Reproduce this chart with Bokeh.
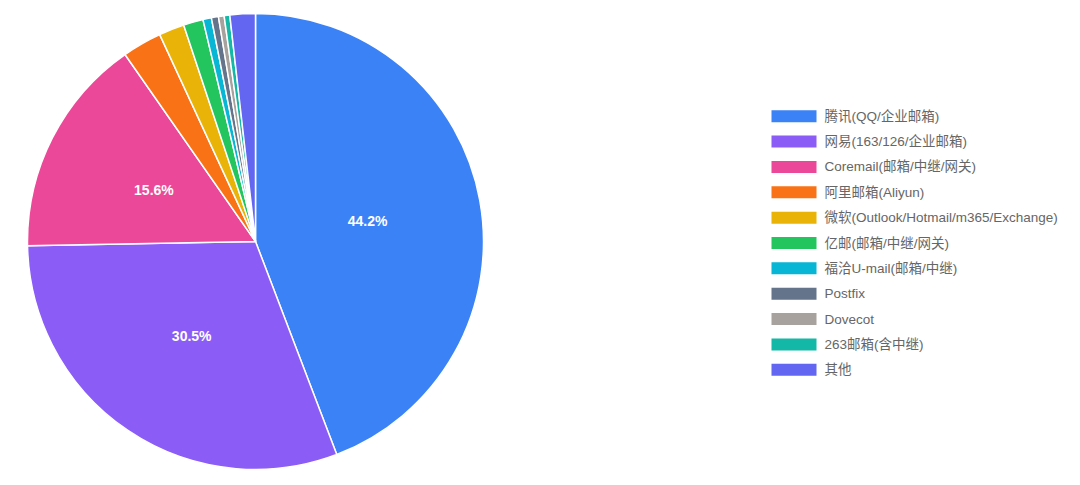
import math
from bokeh.plotting import figure
from bokeh.models import Range1d, ColumnDataSource
from bokeh.core.properties import value
from bokeh.embed import file_html
from bokeh.resources import INLINE

categories = ["腾讯(QQ/企业邮箱)", "网易(163/126/企业邮箱)", "Coremail(邮箱/中继/网关)",
              "阿里邮箱(Aliyun)", "微软(Outlook/Hotmail/m365/Exchange)", "亿邮(邮箱/中继/网关)",
              "福洽U-mail(邮箱/中继)", "Postfix", "Dovecot", "263邮箱(含中继)", "其他"]
shares = [44.2, 30.5, 15.6, 2.8, 1.8, 1.4, 0.6, 0.5, 0.4, 0.4, 1.8]
colors = ["#3b82f6", "#8b5cf6", "#ec4899", "#f97316", "#eab308", "#22c55e",
          "#06b6d4", "#64748b", "#a8a29e", "#14b8a6", "#6366f1"]

W, H = 1064, 469
FONT = "'Liberation Sans', Arial, 'Noto Sans CJK SC', sans-serif"

p = figure(width=W, height=H, output_backend="svg", toolbar_location=None,
           x_range=Range1d(0, W), y_range=Range1d(0, H),
           min_border=0, outline_line_color=None, background_fill_color="white")
p.axis.visible = False
p.grid.visible = False

cx, cy, R = 255, H - 241, 228
total = sum(shares)
starts, ends, mids = [], [], []
c = 0.0
for s in shares:
    a0 = math.pi / 2 - 2 * math.pi * c / total
    c += s
    a1 = math.pi / 2 - 2 * math.pi * c / total
    starts.append(a1)
    ends.append(a0)
    mids.append((a0 + a1) / 2)

src = ColumnDataSource(dict(start=starts, end=ends, color=colors))
p.wedge(x=cx, y=cy, radius=R, start_angle="start", end_angle="end",
        fill_color="color", line_color="white", line_width=1.5, source=src)

lx, ly, lt = [], [], []
for s, m in zip(shares, mids):
    if s / total >= 0.05:
        lx.append(cx + 0.5 * R * math.cos(m))
        ly.append(cy + 0.5 * R * math.sin(m))
        lt.append(f"{s:.1f}%")
p.text(x=lx, y=ly, text=lt, text_color="white", text_font=value(FONT),
       text_font_size="14px", text_font_style="bold", text_align="center",
       text_baseline="middle")

# legend
row_y = [H - (115.7 + 25.36 * i) for i in range(len(categories))]
p.rect(x=[793.5] * len(categories), y=row_y, width=45, height=12,
       fill_color=colors, line_color=None)
p.text(x=[824] * len(categories), y=row_y, text=categories, text_color="#666666",
       text_font=value(FONT), text_font_size="13.5px", text_baseline="middle",
       text_align="left")

open("out.html", "w").write(file_html(p, INLINE))
